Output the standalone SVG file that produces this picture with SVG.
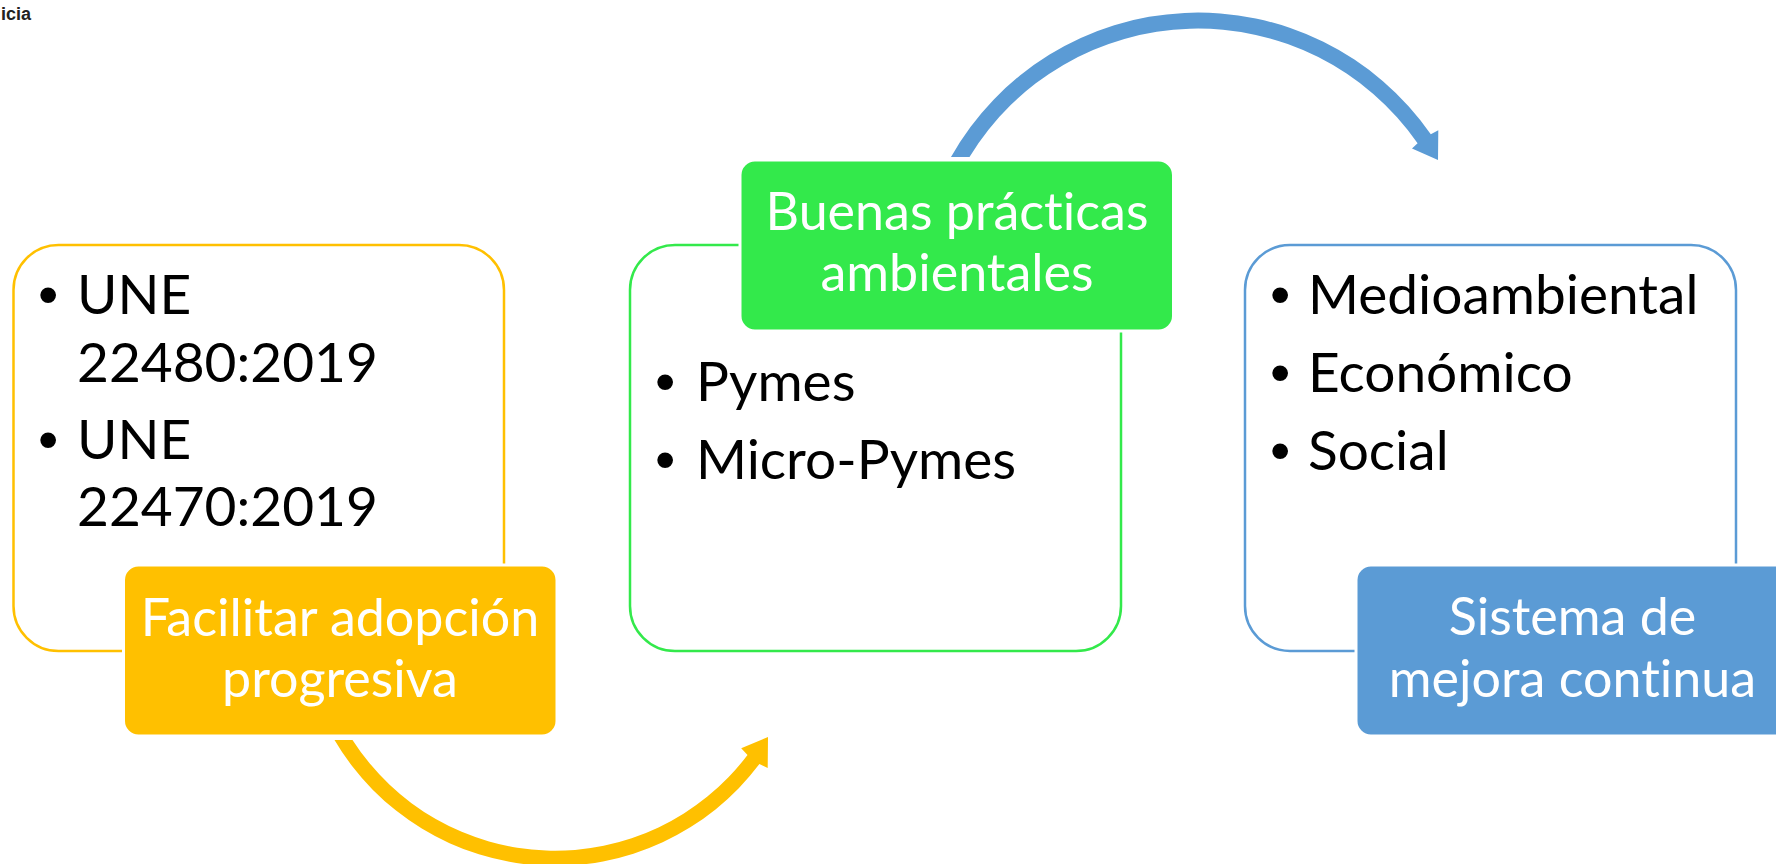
<svg xmlns="http://www.w3.org/2000/svg" width="1776" height="864" viewBox="0 0 1776 864">
  <style>
    text { font-variant-ligatures: none; font-feature-settings: "liga" 0, "dlig" 0; }
    .body { font-family: Lato, "Noto Sans", "Liberation Sans", sans-serif; font-size: 55px; fill: #000000; }
    .bul { font-family: "Liberation Sans", Arial, sans-serif; font-size: 58px; fill: #000000; }
    .lbl { font-family: Lato, "Noto Sans", "Liberation Sans", sans-serif; font-size: 52px; fill: #FFFFFF; text-anchor: middle; }
    .outline { fill: #FFFFFF; stroke-width: 2.5; }
    .tag { stroke: #FFFFFF; stroke-width: 3; }
    .logo { font-family: "Liberation Sans Narrow", "Liberation Sans", sans-serif; font-weight: bold; font-size: 18px; fill: #222222; }
  </style>
  <rect x="0" y="0" width="1776" height="864" fill="#FFFFFF"/>
  <text class="logo" x="1" y="20">icia</text>

  <g id="connectors">
    <path id="arrow-yellow" fill="#FFC000" d="M334.5,740 A256,256 0 0 0 759.4,764.1 L767.7,768 L768,737 L741.2,748.3 L747.5,755 A241,241 0 0 1 352.5,740 Z"/>
    <path id="arrow-blue" fill="#5B9BD5" d="M951,157 A283.5,283.5 0 0 1 1430.8,134.2 L1438.3,130.2 L1438,160 L1412,148.4 L1417.6,143.3 A267.5,267.5 0 0 0 969.5,157 Z"/>
  </g>

  <g id="node-normas">
    <rect class="outline" x="13.5" y="245" width="490.5" height="406" rx="45" stroke="#FFC000"/>
    <text class="bul" x="38" y="314">•</text>
    <text class="body" x="77" y="314">UNE</text>
    <text class="body" x="77" y="382">22480:2019</text>
    <text class="bul" x="38" y="459">•</text>
    <text class="body" x="77" y="459">UNE</text>
    <text class="body" x="77" y="526">22470:2019</text>
  </g>
  <g id="node-facilitar">
    <rect class="tag" x="123.5" y="565" width="433.5" height="171" rx="15" fill="#FFC000"/>
    <text class="lbl" x="340" y="636">Facilitar adopción</text>
    <text class="lbl" x="340" y="697">progresiva</text>
  </g>

  <g id="node-pymes">
    <rect class="outline" x="630" y="245" width="491" height="406" rx="45" stroke="#33E94B"/>
    <text class="bul" x="655" y="401">•</text>
    <text class="body" x="696" y="401">Pymes</text>
    <text class="bul" x="655" y="479">•</text>
    <text class="body" x="696" y="479">Micro-Pymes</text>
  </g>
  <g id="node-buenas">
    <rect class="tag" x="740" y="160" width="433.5" height="171" rx="15" fill="#33E94B"/>
    <text class="lbl" x="957" y="230">Buenas prácticas</text>
    <text class="lbl" x="957" y="291">ambientales</text>
  </g>

  <g id="node-ambitos">
    <rect class="outline" x="1245" y="245" width="491" height="406" rx="45" stroke="#5B9BD5"/>
    <text class="bul" x="1270" y="314">•</text>
    <text class="body" x="1308" y="314">Medioambiental</text>
    <text class="bul" x="1270" y="392">•</text>
    <text class="body" x="1308" y="392">Económico</text>
    <text class="bul" x="1270" y="470">•</text>
    <text class="body" x="1308" y="470">Social</text>
  </g>
  <g id="node-sistema">
    <rect class="tag" x="1356" y="565" width="433.5" height="171" rx="15" fill="#5B9BD5"/>
    <text class="lbl" x="1572.5" y="635">Sistema de</text>
    <text class="lbl" x="1572.5" y="697">mejora continua</text>
  </g>
</svg>
